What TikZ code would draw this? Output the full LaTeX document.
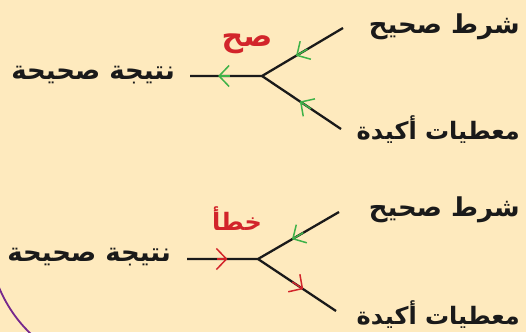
\documentclass[tikz,border=0pt]{standalone}
\usepackage{fontspec}
\newfontfamily\arabicfont[Script=Arabic]{DejaVu Sans}
\TeXXeTstate=1
\usetikzlibrary{arrows.meta,calc}
\definecolor{bg}{RGB}{254,234,190}
\definecolor{okgreen}{RGB}{62,178,72}
\definecolor{badred}{RGB}{210,36,42}
\definecolor{arcpurple}{RGB}{118,40,140}
\definecolor{ink}{RGB}{26,26,26}
\begin{document}
\begin{tikzpicture}[x=1pt,y=-1pt,
  lbl/.style={font=\arabicfont\bfseries\fontsize{26}{30}\selectfont, inner sep=0pt, text=ink},
  lblsm/.style={lbl, font=\arabicfont\bfseries\fontsize{24}{30}\selectfont},
  verdict/.style={font=\arabicfont\bfseries\fontsize{25}{30}\selectfont, inner sep=0pt, text=badred},
  branch/.style={draw=ink, line width=2.3pt},
  chev/.style={line width=1.5pt, -{Straight Barb[length=10pt,width=21pt]}},
  greenchev/.style={chev, draw=okgreen},
  redchev/.style={chev, draw=badred}]
\useasboundingbox (0,0) rectangle (526,332);
\fill[bg] (0,0) rectangle (526,332);
\begin{scope}
\clip (0,0) rectangle (526,332);
\draw[arcpurple, line width=1.8pt] (-2,285) .. controls (4,300) and (14,318) .. (31,334);
\end{scope}

% ---------- top diagram ----------
\coordinate (J1) at (262,76);
\coordinate (L1) at (190,76);
\coordinate (U1) at (343,28);
\coordinate (D1) at (341,129);
\draw[branch] (L1) -- (J1) -- (U1);
\draw[branch] (J1) -- (D1);
\node[lbl, anchor=east] (c1) at (520,27) {\beginR شرط صحيح\endR};
\node[lblsm, anchor=east] (g1) at (520,130) {\beginR معطيات أكيدة\endR};
\node[lbl, anchor=east] (r1) at (175,75) {\beginR نتيجة صحيحة\endR};
\node[verdict, font=\arabicfont\bfseries\fontsize{30}{34}\selectfont] (v1) at (247,44) {\beginR صح\endR};
\draw[greenchev] ($(J1)!0.45!(L1)$) -- ($(J1)!0.61!(L1)$);
\draw[greenchev] ($(J1)!0.56!(U1)$) -- ($(J1)!0.42!(U1)$);
\draw[greenchev] ($(J1)!0.62!(D1)$) -- ($(J1)!0.48!(D1)$);

% ---------- bottom diagram ----------
\coordinate (J2) at (258,259);
\coordinate (L2) at (187,259);
\coordinate (U2) at (339,212);
\coordinate (D2) at (336,311);
\draw[branch] (L2) -- (J2) -- (U2);
\draw[branch] (J2) -- (D2);
\node[lbl, anchor=east] (c2) at (520,210) {\beginR شرط صحيح\endR};
\node[lblsm, anchor=east] (g2) at (520,315) {\beginR معطيات أكيدة\endR};
\node[lbl, anchor=east] (r2) at (171,257) {\beginR نتيجة صحيحة\endR};
\node[verdict, font=\arabicfont\bfseries\fontsize{24}{30}\selectfont] (v2) at (237,219) {\beginR خطأ\endR};
\draw[redchev] ($(L2)!0.42!(J2)$) -- ($(L2)!0.57!(J2)$);
\draw[greenchev] ($(J2)!0.56!(U2)$) -- ($(J2)!0.42!(U2)$);
\draw[redchev] ($(J2)!0.44!(D2)$) -- ($(J2)!0.58!(D2)$);
\end{tikzpicture}
\end{document}
